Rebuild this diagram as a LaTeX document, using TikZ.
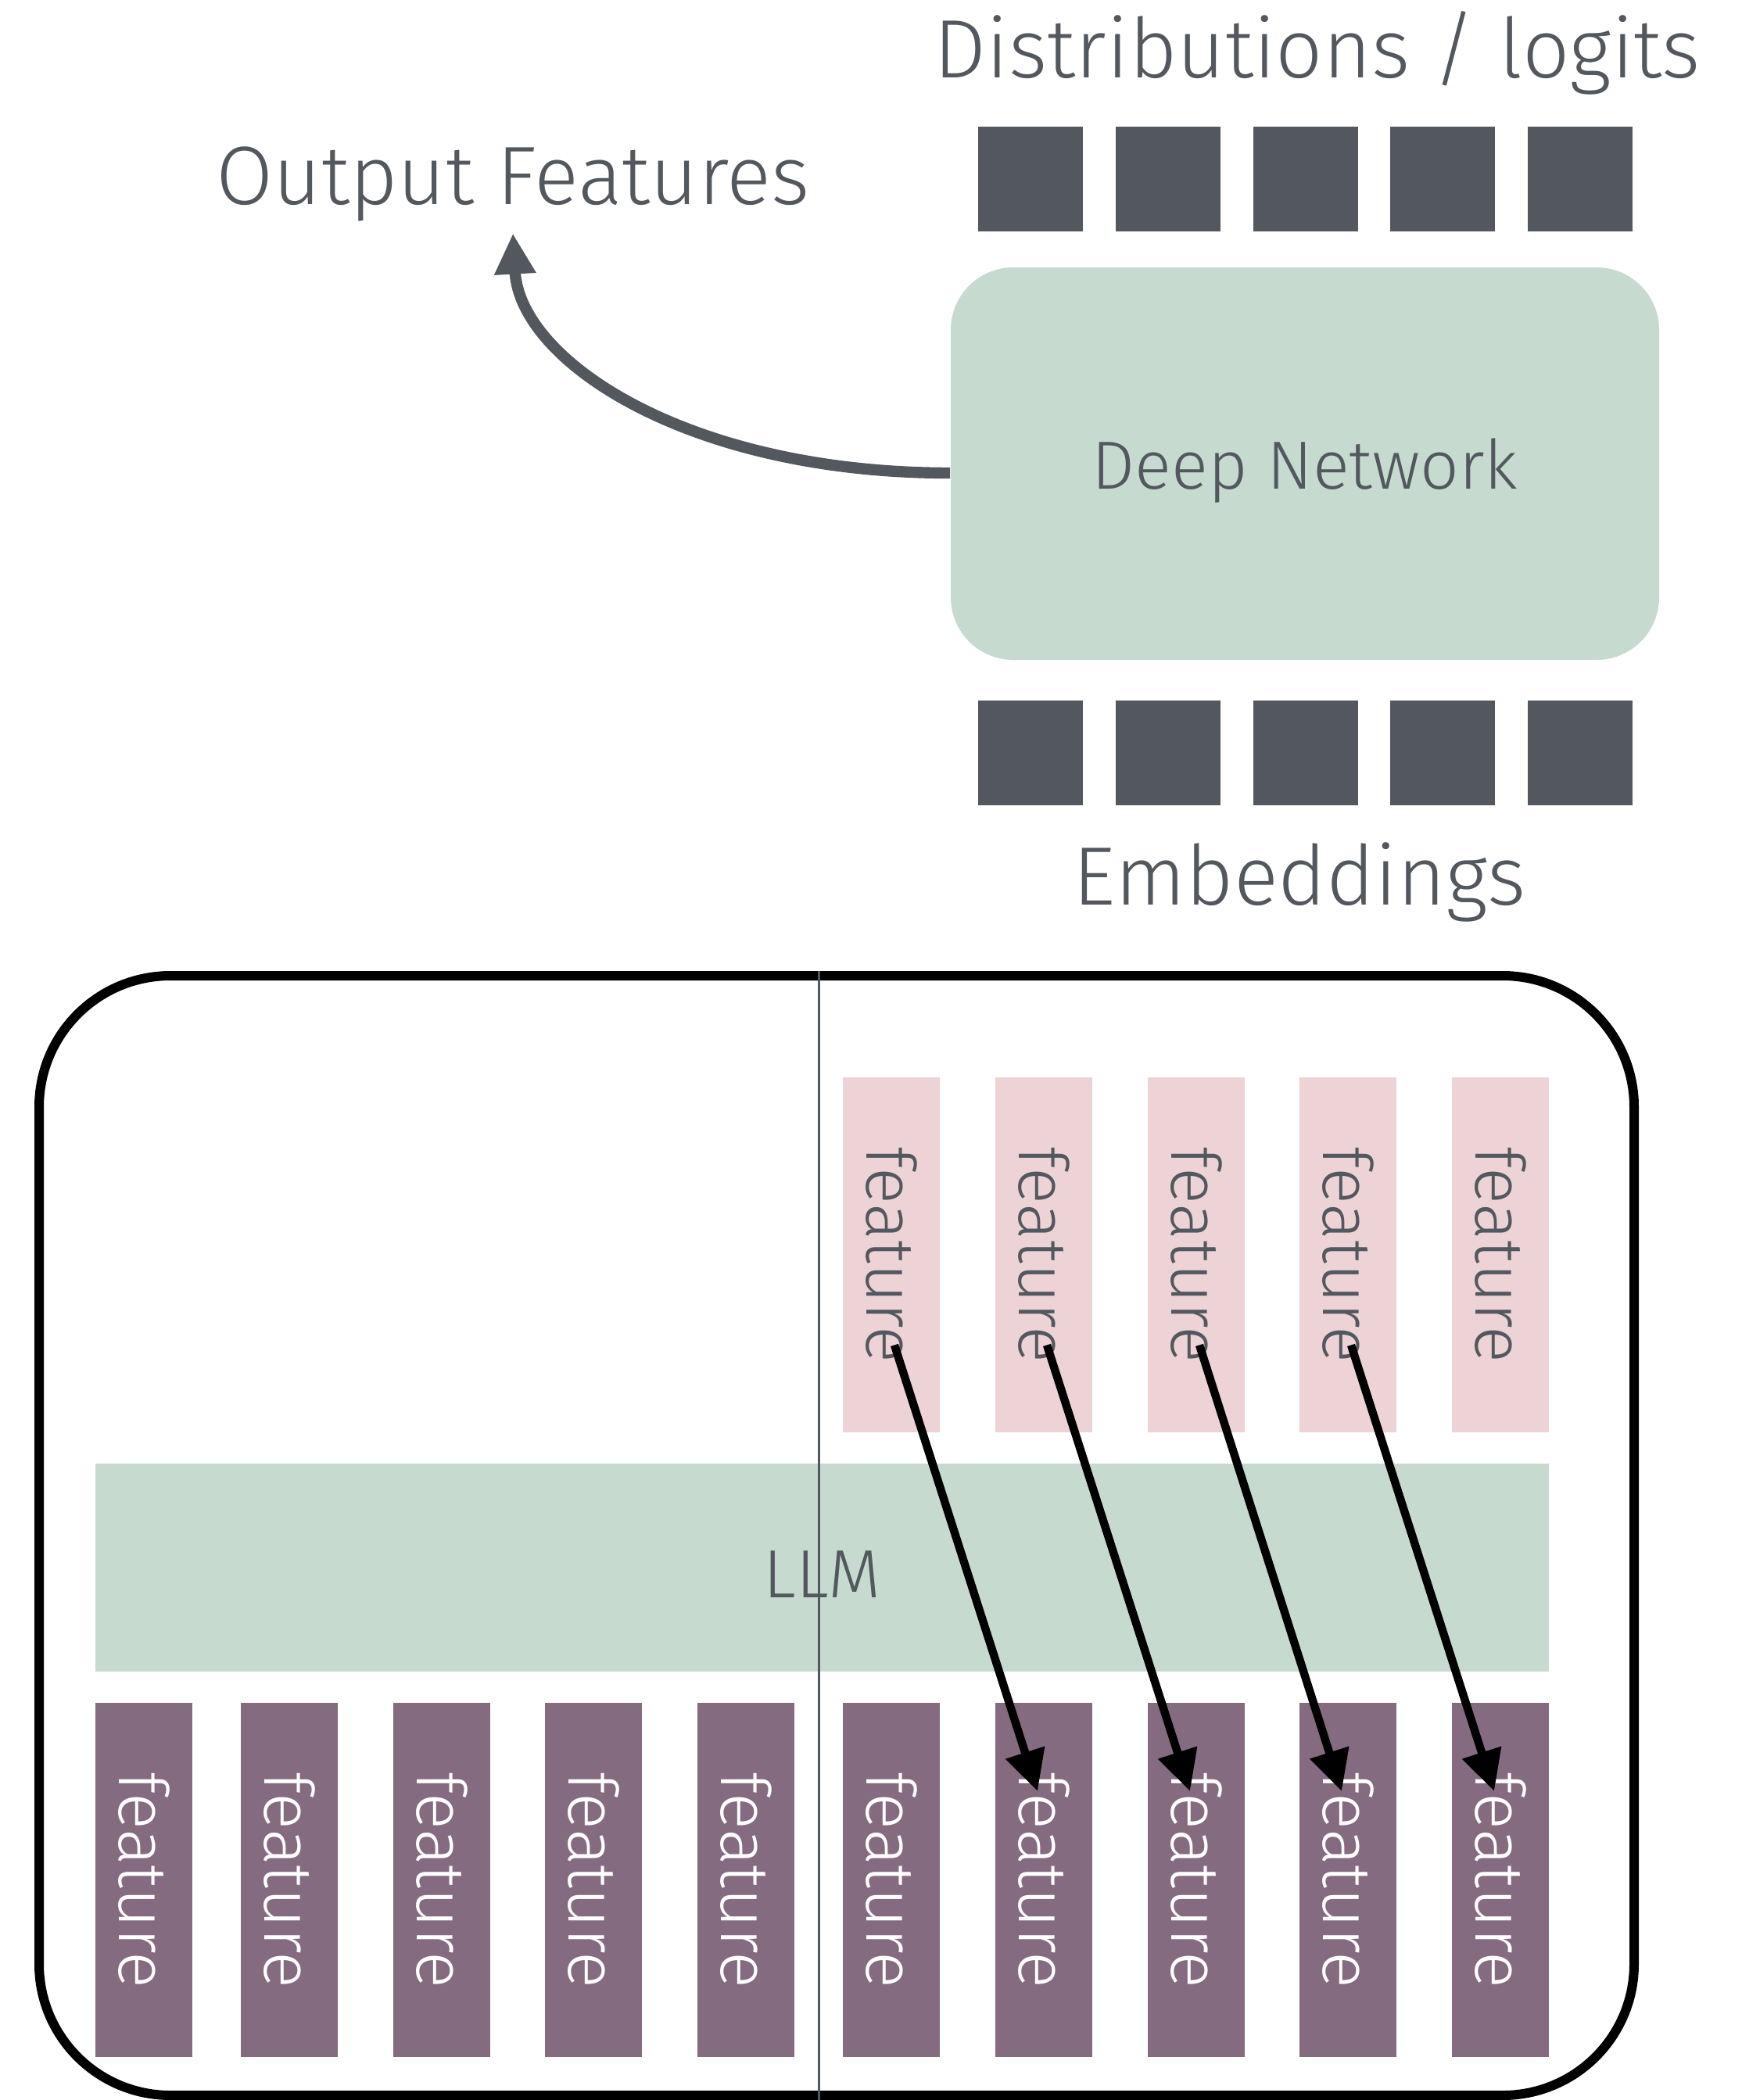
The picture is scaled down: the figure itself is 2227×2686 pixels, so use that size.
\documentclass[tikz,border=0pt]{standalone}
\usepackage{fontspec}
\usepackage{graphicx}
\setmainfont{Fira Sans Light}
\usetikzlibrary{arrows.meta,calc}

\definecolor{inkgray}{RGB}{83,88,95}
\definecolor{netgreen}{RGB}{198,218,207}
\definecolor{featpink}{RGB}{237,211,213}
\definecolor{featpurple}{RGB}{133,107,128}

\begin{document}
\begin{tikzpicture}[x=0.25pt,y=0.25pt,yscale=-1,xscale=1,
	tok/.style={fill=inkgray,inner sep=0pt,minimum width=33.5pt,minimum height=33.5pt},
	title/.style={text=inkgray,inner sep=0pt,anchor=base,font=\fontsize{26.5}{30}\selectfont},
	block/.style={fill=netgreen,text=inkgray,inner sep=0pt,text depth=0pt,font=\fontsize{21.8}{26}\selectfont},
	infeat/.style={fill=featpurple,text=white,inner sep=0pt,minimum width=31pt,minimum height=113.3pt,font=\fontsize{21.8}{26}\selectfont},
	outfeat/.style={infeat,fill=featpink,text=inkgray},
	flowarrow/.style={draw=inkgray,line width=3.6pt,-{Triangle[length=13pt,width=12.5pt]}},
	feedarrow/.style={draw=black,line width=2.6pt,-{Triangle[length=13pt,width=12.5pt]}}]
	\useasboundingbox (0,0) rectangle (2227,2686);

	% Deep network part
	\node[title] (dist) at (1685,100) {Distributions / logits};
	\node[tok] (d1) at (1318,229) {};
	\node[tok] (d2) at (1494,229) {};
	\node[tok] (d3) at (1670,229) {};
	\node[tok] (d4) at (1845,229) {};
	\node[tok] (d5) at (2021,229) {};
	\node[block,rounded corners=20pt,minimum width=226.5pt,minimum height=125.5pt] (dn) at (1669,593) {Deep Network};
	\node[tok] (e1) at (1318,963) {};
	\node[tok] (e2) at (1494,963) {};
	\node[tok] (e3) at (1670,963) {};
	\node[tok] (e4) at (1845,963) {};
	\node[tok] (e5) at (2021,963) {};
	\node[title] (emb) at (1662,1157) {Embeddings};
	\node[title,inner sep=3.5pt] (outf) at (656,262) {Output Features};
	% Connection
	\draw[flowarrow] ($(dn.west)+(0,12)$) .. controls +(-336,0) and +(9,163) .. (outf.south);

	% LLM part
	\draw[line width=3pt,rounded corners=42pt] (50,1248) rectangle (2090,2680);
	\node[outfeat] (o1) at (1140,1605) {\rotatebox{-90}{feature}};
	\node[outfeat] (o2) at (1335,1605) {\rotatebox{-90}{feature}};
	\node[outfeat] (o3) at (1530,1605) {\rotatebox{-90}{feature}};
	\node[outfeat] (o4) at (1724,1605) {\rotatebox{-90}{feature}};
	\node[outfeat] (o5) at (1919,1605) {\rotatebox{-90}{feature}};
	\node[block,text height=19pt,minimum width=464.8pt,minimum height=66.5pt] (llm) at (1051.5,2005) {LLM};
	\node[infeat] (i1) at (184,2404.5) {\rotatebox{-90}{feature}};
	\node[infeat] (i2) at (370,2404.5) {\rotatebox{-90}{feature}};
	\node[infeat] (i3) at (565,2404.5) {\rotatebox{-90}{feature}};
	\node[infeat] (i4) at (759,2404.5) {\rotatebox{-90}{feature}};
	\node[infeat] (i5) at (954,2404.5) {\rotatebox{-90}{feature}};
	\node[infeat] (i6) at (1140,2404.5) {\rotatebox{-90}{feature}};
	\node[infeat] (i7) at (1335,2404.5) {\rotatebox{-90}{feature}};
	\node[infeat] (i8) at (1530,2404.5) {\rotatebox{-90}{feature}};
	\node[infeat] (i9) at (1724,2404.5) {\rotatebox{-90}{feature}};
	\node[infeat] (i10) at (1919,2404.5) {\rotatebox{-90}{feature}};
	\draw[inkgray,line width=0.75pt] (1047,1242) -- (1047,2686);
	% Connection
	\draw[feedarrow] ($(o1.south)+(4,-112)$) -- ($(i7.north)+(-8,114)$);
	\draw[feedarrow] ($(o2.south)+(4,-112)$) -- ($(i8.north)+(-8,114)$);
	\draw[feedarrow] ($(o3.south)+(4,-112)$) -- ($(i9.north)+(-8,114)$);
	\draw[feedarrow] ($(o4.south)+(4,-112)$) -- ($(i10.north)+(-8,114)$);

\end{tikzpicture}
\end{document}
